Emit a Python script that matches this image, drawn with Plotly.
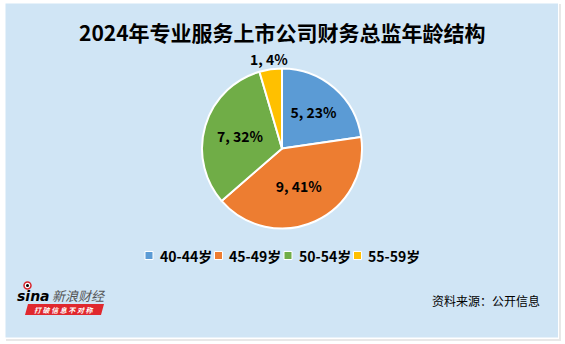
import math
import plotly.graph_objects as go

categories = ["40-44岁", "45-49岁", "50-54岁", "55-59岁"]
counts = [5, 9, 7, 1]
pct_labels = ["23%", "41%", "32%", "4%"]
colors = ["#5B9BD5", "#ED7D31", "#70AD47", "#FFC000"]

W, H = 565, 344
FONT = "Noto Sans CJK SC"

def px(x):
    return x / W

def py(y):
    return 1 - y / H

texts = [f"{c}, {p}" for c, p in zip(counts, pct_labels)]

# pie geometry (pixels)
CX, CY, R = 282, 148.5, 80

fig = go.Figure()
fig.add_trace(go.Pie(
    labels=categories,
    values=counts,
    text=texts,
    texttemplate="%{text}",
    textposition=["inside", "inside", "inside", "none"],
    insidetextorientation="horizontal",
    sort=False,
    direction="clockwise",
    rotation=0,
    marker=dict(colors=colors, line=dict(color="white", width=2)),
    textfont=dict(family=FONT, size=14, color="black", weight="bold"),
    domain=dict(x=[px(CX - R), px(CX + R)], y=[py(CY + R), py(CY - R)]),
    hoverinfo="label+value+percent",
    showlegend=False,
))

shapes = [
    dict(type="rect", xref="paper", yref="paper",
         x0=px(6), x1=px(561), y0=py(341), y1=py(4),
         fillcolor="#E8E8E8", line=dict(width=0), layer="below"),
    dict(type="rect", xref="paper", yref="paper",
         x0=px(4), x1=px(559), y0=py(339), y1=py(2),
         fillcolor="white", line=dict(width=0), layer="below"),
    dict(type="rect", xref="paper", yref="paper",
         x0=px(5.5), x1=px(558), y0=py(337.5), y1=py(3.5),
         fillcolor="#D0E5F5", line=dict(width=0), layer="below"),
    # logo red banner
    dict(type="path", xref="paper", yref="paper",
         path=f"M {px(25)},{py(315)} L {px(101)},{py(315)} L {px(104)},{py(304)} L {px(28)},{py(304)} Z",
         fillcolor="#E0282E", line=dict(width=0), layer="above"),
    # logo eye
    dict(type="circle", xref="paper", yref="paper",
         x0=px(24), x1=px(31), y0=py(289), y1=py(282),
         fillcolor="white", line=dict(color="#D8232A", width=1.5)),
    dict(type="circle", xref="paper", yref="paper",
         x0=px(26), x1=px(29), y0=py(287), y1=py(284),
         fillcolor="black", line=dict(width=0)),
]

annotations = [
    dict(text="2024年专业服务上市公司财务总监年龄结构", x=px(282), y=py(32),
         xref="paper", yref="paper", xanchor="center", yanchor="middle",
         showarrow=False, font=dict(family=FONT, size=21, color="black", weight="bold")),
    dict(text="资料来源：公开信息", x=px(542), y=py(300),
         xref="paper", yref="paper", xanchor="right", yanchor="middle",
         showarrow=False, font=dict(family=FONT, size=12, color="black")),
    dict(text="<i><b>sina</b></i>", x=px(15), y=py(296),
         xref="paper", yref="paper", xanchor="left", yanchor="middle",
         showarrow=False, font=dict(family="DejaVu Sans", size=14, color="black")),
    dict(text="<i>新浪财经</i>", x=px(50), y=py(295),
         xref="paper", yref="paper", xanchor="left", yanchor="middle",
         showarrow=False, font=dict(family=FONT, size=13, color="#555555")),
    dict(text="<i><b>打 破 信 息 不 对 称</b></i>", x=px(64), y=py(309.5),
         xref="paper", yref="paper", xanchor="center", yanchor="middle",
         showarrow=False, font=dict(family=FONT, size=7, color="white")),
]

# outside label for slices with textposition "none": placed at mid-angle
total = sum(counts)
cum = 0
for i, c in enumerate(counts):
    mid = (cum + c / 2) / total * 2 * math.pi
    cum += c
    if i == 3:
        lr = R + 10
        lx = CX + lr * math.sin(mid)
        ly = CY - lr * math.cos(mid)
        annotations.append(dict(
            text=texts[i], x=px(lx), y=py(ly), xref="paper", yref="paper",
            xanchor="center", yanchor="middle", showarrow=False,
            font=dict(family=FONT, size=14, color="black", weight="bold")))

# manual legend
LX0, LSTEP, LY = 145, 69.5, 255.5
for i, (cat, col) in enumerate(zip(categories, colors)):
    x = LX0 + i * LSTEP
    shapes.append(dict(type="rect", xref="paper", yref="paper",
                       x0=px(x), x1=px(x + 8), y0=py(LY + 4), y1=py(LY - 4),
                       fillcolor=col, line=dict(color="white", width=1)))
    annotations.append(dict(text=cat, x=px(x + 12.5), y=py(LY), xref="paper", yref="paper",
                            xanchor="left", yanchor="middle", showarrow=False,
                            font=dict(family=FONT, size=14, color="black", weight="bold")))

fig.update_layout(
    width=W, height=H,
    margin=dict(l=0, r=0, t=0, b=0),
    paper_bgcolor="white",
    plot_bgcolor="white",
    font=dict(family=FONT),
    showlegend=False,
    shapes=shapes,
    annotations=annotations,
)

fig.write_html("out.html")
